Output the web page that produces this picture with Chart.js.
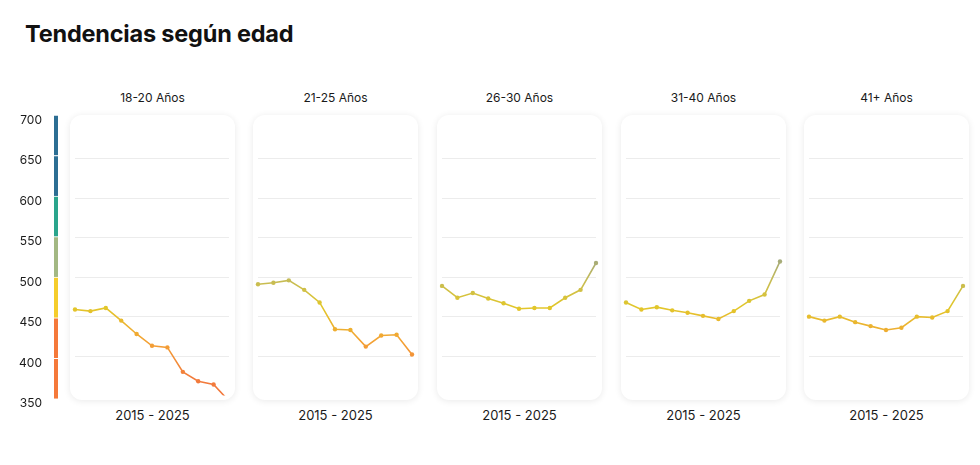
<!DOCTYPE html>
<html>
<head>
<meta charset="utf-8">
<script src="https://cdn.jsdelivr.net/npm/chart.js@4.4.1/dist/chart.umd.min.js"></script>
<style>
  body { margin: 0; background: #fff; font-family: Inter, "Noto Sans", sans-serif; color: #1a1a1a; }
  #wrap { position: relative; width: 980px; height: 465px; overflow: hidden; }
  h1 { position: absolute; left: 25px; top: 19px; margin: 0; font-size: 23.5px; font-weight: 700; letter-spacing: -0.2px; color: #111; }
  .card { position: absolute; top: 115px; width: 165px; height: 285px; border-radius: 12px; background: #fff;
          box-shadow: 0 1px 7px rgba(0,0,0,0.09); }
  .card canvas { position: absolute; left: 0; top: 0; }
  .ptitle, .prange { position: absolute; width: 165px; text-align: center; color: #1a1a1a; }
  .ptitle { top: 90px; font-size: 12px; }
  .prange { top: 407px; font-size: 13px; }
  #axis { position: absolute; left: 0; top: 100px; }
</style>
</head>
<body>
<div id="wrap">
  <h1>Tendencias según edad</h1>
  <canvas id="axis" width="66" height="310"></canvas>
</div>
<script>
const years = [2015, 2016, 2017, 2018, 2019, 2020, 2021, 2022, 2023, 2024, 2025];
const ageGroups = ['18-20 Años', '21-25 Años', '26-30 Años', '31-40 Años', '41+ Años'];

const scores18to20 = [459, 457, 461, 445, 428, 413, 411, 380, 368, 364, 343];
const scores21to25 = [491, 493, 496, 484, 468, 434, 433, 412, 426, 427, 402];
const scores26to30 = [489, 474, 480, 473, 467, 460, 461, 461, 474, 484, 518];
const scores31to40 = [468, 459, 462, 458, 455, 451, 447, 457, 470, 478, 520];
const scores41plus = [450, 445, 450, 443, 438, 433, 436, 450, 449, 457, 489];

const yMin = 350;
const yMax = 700;
const yTicks = [350, 400, 450, 500, 550, 600, 650, 700];

// colour bands on the left axis
const bandLow = [350, 400, 450, 500, 550, 600, 650];
const bandHigh = [400, 450, 500, 550, 600, 650, 700];
const bandColors = ['#f5793a', '#f5793a', '#f5cd2c', '#a3b883', '#2aa58c', '#2c6e93', '#2c6e93'];

const allScores = [scores18to20, scores21to25, scores26to30, scores31to40, scores41plus];
const cardLeft = [70, 253, 437, 621, 804];

const wrap = document.getElementById('wrap');

// line colour follows the value bands
function lineGradient(context) {
  const chart = context.chart;
  const area = chart.chartArea;
  if (!area) return '#e2c72a';
  const y = chart.scales.y;
  const g = chart.ctx.createLinearGradient(0, y.getPixelForValue(yMin), 0, y.getPixelForValue(yMax));
  const f = v => (v - yMin) / (yMax - yMin);
  g.addColorStop(0, '#f2783c');
  g.addColorStop(f(372), '#f27b3c');
  g.addColorStop(f(420), '#f3a334');
  g.addColorStop(f(462), '#e2c72a');
  g.addColorStop(f(498), '#c4bb58');
  g.addColorStop(f(525), '#a0a880');
  g.addColorStop(f(580), '#2aa58c');
  g.addColorStop(1, '#2c6e93');
  return g;
}

// axis with coloured bar
new Chart(document.getElementById('axis'), {
  type: 'bar',
  data: {
    labels: [''],
    datasets: bandLow.map((lo, i) => ({
      data: [[lo, bandHigh[i]]],
      backgroundColor: bandColors[i],
      borderColor: '#ffffff',
      borderWidth: { top: 1, bottom: 0, left: 0, right: 0 },
      borderSkipped: false,
      barThickness: 4,
      grouped: false
    }))
  },
  options: {
    responsive: false,
    animation: false,
    layout: { padding: { top: 15, bottom: 10, left: 0, right: 0 } },
    plugins: { legend: { display: false }, tooltip: { enabled: false } },
    scales: {
      x: { display: false },
      y: {
        min: yMin, max: yMax,
        afterBuildTicks: s => { s.ticks = yTicks.map(v => ({ value: v })); },
        afterFit: s => { s.width = 46; },
        grid: { display: false, drawTicks: false },
        border: { display: false },
        ticks: { color: '#1a1a1a', font: { family: 'Inter', size: 12 }, padding: 4, labelOffset: 5 }
      }
    }
  }
});

allScores.forEach((scores, i) => {
  const title = document.createElement('div');
  title.className = 'ptitle';
  title.style.left = cardLeft[i] + 'px';
  title.textContent = ageGroups[i];
  wrap.appendChild(title);

  const range = document.createElement('div');
  range.className = 'prange';
  range.style.left = cardLeft[i] + 'px';
  range.textContent = years[0] + ' - ' + years[years.length - 1];
  wrap.appendChild(range);

  const card = document.createElement('div');
  card.className = 'card';
  card.style.left = cardLeft[i] + 'px';
  const cv = document.createElement('canvas');
  cv.width = 165;
  cv.height = 285;
  card.appendChild(cv);
  wrap.appendChild(card);

  new Chart(cv, {
    type: 'line',
    data: {
      labels: years,
      datasets: [{
        data: scores,
        borderColor: lineGradient,
        backgroundColor: lineGradient,
        pointBackgroundColor: lineGradient,
        pointBorderWidth: 0,
        pointRadius: 2.2,
        borderWidth: 1.6,
        tension: 0
      }]
    },
    options: {
      responsive: false,
      animation: false,
      layout: { padding: { left: 5, right: 6, top: 4.5, bottom: 4.5 } },
      plugins: { legend: { display: false }, tooltip: { enabled: false } },
      scales: {
        x: { display: false, offset: false },
        y: {
          min: yMin, max: yMax,
          afterBuildTicks: s => { s.ticks = yTicks.map(v => ({ value: v })); },
          afterFit: s => { s.width = 0; },
          border: { display: false },
          ticks: { display: false },
          grid: {
            drawTicks: false,
            lineWidth: 1,
            color: c => (c.tick && (c.tick.value === yMin || c.tick.value === yMax)) ? 'rgba(0,0,0,0)' : '#ececec'
          }
        }
      }
    }
  });
});
</script>
</body>
</html>
